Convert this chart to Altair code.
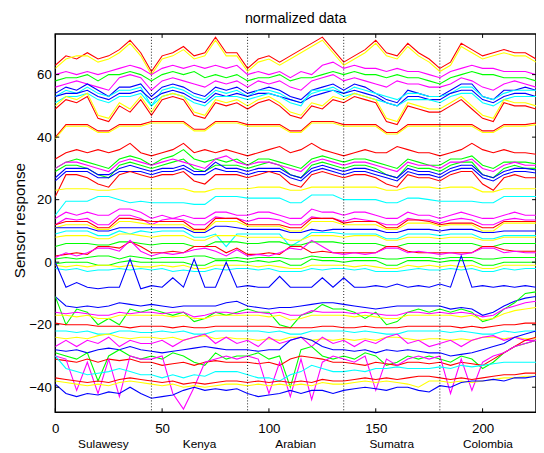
import altair as alt
import pandas as pd

# sample positions (every 5th sample)
X = list(range(0, 226, 5))
X_TICKS = [0, 50, 100, 150, 200]
Y_TICKS = [-40, -20, 0, 20, 40, 60]
GROUP_BOUNDS = [45, 90, 135, 180]
GROUP_NAMES = ["Sulawesy", "Kenya", "Arabian", "Sumatra", "Colombia"]
GROUP_CENTERS = [22.5, 67.5, 112.5, 157.5, 202.5]

RED, YEL, GRN, CYN, BLU, MAG = "#FF0000", "#FFFF00", "#00FF00", "#00FFFF", "#0000FF", "#FF00FF"

top_red = [63,66,65,67,65,66,68,71,67, 61,66,67,69,66,67,72,67,67, 62,65,66,64,66,68,70,72,68, 64,66,68,71,67,66,70,67,65, 62,64,70,68,66,67,68,67,67, 65]
top_yellow = [62,65,66,66,64,65,67,70,66, 60,65,66,68,65,66,71,66,66, 61,64,65,63,65,67,69,71,67, 63,65,67,70,66,65,69,66,64, 61,63,69,67,65,66,67,66,66, 64]
mag_hi = [60,61,60,61,60,61,62,63,62, 60,62,63,62,63,62,63,62,63, 60,61,60,61,59,61,60,63,64, 62,63,62,62,61,62,61,61,60, 59,61,62,63,62,62,61,61,61, 60]
green_hi = [58,59,59,60,58,60,60,61,60, 58,60,61,60,61,59,60,59,60, 58,59,59,60,58,59,59,60,61, 60,61,60,60,59,60,59,59,58, 57,59,60,61,60,60,59,59,59, 58]
mag_mid = [56,57,58,57,56,55,59,60,59, 55,58,59,58,57,56,58,57,58, 56,58,57,58,56,55,58,59,60, 58,59,58,57,56,58,57,57,56, 56,57,59,58,56,55,57,58,57, 56]
blue_hi = [54,56,55,57,55,53,56,56,57, 53,56,57,56,54,53,56,55,56, 54,55,56,55,53,52,55,56,57, 55,57,56,54,52,51,55,54,53, 53,55,57,57,53,52,55,55,56, 55]
cyan_hi = [53,55,54,56,54,53,55,55,56, 50,55,56,55,53,52,55,54,55, 53,55,55,54,52,51,54,55,56, 54,56,55,54,53,52,54,54,53, 53,54,56,56,53,52,54,55,55, 55]
blue_mid = [53,54,54,55,53,52,54,54,55, 52,54,55,54,52,51,54,53,54, 53,54,54,53,52,51,53,54,55, 54,55,54,53,51,50,53,53,52, 52,54,55,55,52,51,53,54,54, 53]
cyan_mid = [51,53,53,54,52,51,53,53,54, 50,53,54,53,51,50,53,53,53, 52,53,54,53,51,50,55,55,55, 53,54,53,52,51,50,52,52,52, 51,53,54,54,51,50,52,53,53, 53]
yellow_lo = [50,53,52,54,47,46,51,49,53, 48,53,54,53,48,47,52,51,52, 50,52,53,51,48,47,51,50,53, 52,54,53,52,46,45,51,50,49, 49,51,53,50,47,46,52,51,51, 50]
red_lo = [49,52,51,53,46,45,50,48,52, 47,52,53,52,47,46,51,50,51, 49,51,52,50,47,46,50,49,52, 51,53,52,51,45,44,50,49,48, 48,50,52,49,46,45,51,50,50, 49]
red_44 = [40,44,44,44,42,42,44,44,44, 45,45,45,45,42.5,42.5,45,45,45, 44,44,44,44,42,42,45,45,45, 44,44,44,44,41.5,41.5,44,44,44, 44,44,44,44,42,42,44,44,44, 44.5]
yellow_44 = [39.5,43.5,43.5,43.5,41.5,41.5,43.5,43.5,43.5, 44.5,44.5,44.5,44.5,42,42,44.5,44.5,44.5, 43.5,43.5,43.5,43.5,41.5,41.5,44.5,44.5,44.5, 43.5,43.5,43.5,43.5,41,41,43.5,43.5,43.5, 43.5,43.5,43.5,43.5,41.5,41.5,43.5,43.5,43.5, 44]
red_36 = [33,35,36,35,36,35,36,38,35, 34,35,36,38,35,36,35,36,35, 34,35,36,37,35,36,38,36,35, 34,35,36,35,35,37,36,35,35, 34,35,36,38,36,35,36,35,35, 34.5]
green_33 = [30,32,33,32,31,30,33,34,33, 31,33,34,36,33,32,33,32,33, 31,33,33,32,31,30,33,34,33, 32,33,33,32,31,30,33,32,31, 31,33,33,34,31,30,32,32,32, 31.5]
green_31 = [29,31,31,30,28,27,31,32,31, 30,31,32,33,30,29,31,31,31, 30,31,32,31,28,27,31,32,31, 30,31,31,30,28,27,31,30,30, 29,31,32,32,28,27,30,31,30, 30]
mag_32 = [30,32,32,31,30,29,32,33,32, 31,32,33,32,31,30,33,34,32, 31,32,32,31,30,29,32,33,32, 31,32,32,31,30,29,32,31,31, 30,32,32,33,30,29,31,32,31, 31]
blue_30 = [27,30,30,30,28,28,30,31,30, 29,30,30,31,29,29,32,30,30, 29,30,30,30,28,27,30,31,30, 29,30,30,29,28,27,30,29,29, 28,30,31,31,28,27,29,30,30, 29.5]
blue_29 = [26,29,29,29,27,27,29,29,29, 28,29,29,30,28,28,30,29,29, 28,29,29,29,27,26,29,30,29, 28,29,29,28,27,26,29,28,28, 27,29,30,30,27,26,28,29,29, 28.5]
red_28 = [21,28,28,27,25,24,28,29,28, 27,28,28,29,26,25,28,28,28, 27,28,29,28,25,24,28,29,28, 27,28,28,27,25,24,28,27,27, 26,28,29,29,25,23,27,28,27, 27]
yellow_24 = [23,23.5,23.5,23.5,23,23,23.5,23.5,23.5, 23.5,23.5,23.5,23.5,22.5,22.5,23.5,23.5,23.5, 23.5,24,24,24,23,23,24,24,24, 24,24,24,24,23,23,24,24,24, 23.5,24,24,24,22.5,22.5,23.5,23.5,23.5, 23.5]
cyan_20 = [15,19.5,19.5,19.5,21,21,20,19,19.5, 19,19,19,19,18.5,18.5,21,21,21, 20.5,20.5,20.5,20.5,19,19,21.5,21.5,21.5, 20,20,20,20,19,19,20.5,20.5,20, 19.5,19.5,19.5,19.5,19,19,21,21,21, 21]
mag_16 = [14,16,15,16,15,15,17,17,16, 14,15,14,15,14,14,16,16,15, 15,16,16,15,14,14,17,16,16, 15,16,16,15,14,14,16,15,15, 14,15,16,15,14,14,15,16,15, 15]
mag_14 = [12,14,13.5,14,12,12,15,15,14, 12,13.5,14,13.5,12,12,14.5,14,14, 13,14,14,13.5,12,12,14.5,14,14, 13,14,13.5,13,12,12,14,13.5,13.5, 12.5,13.5,14,13.5,12,12,13.5,14,13.5, 13.5]
red_13 = [12,13,13,13,11,11,14,14,13.5, 13,13,13,13,10.5,10.5,14,14,14, 12,12,12,12,11,11,14,14,14, 12.5,13,13,13,11,11,13.5,13.5,13, 12,12.5,12.5,12.5,11,11,13,13,13, 13]
yellow_12 = [11,12,12,12,10.5,10.5,13,13,12.5, 12,12,12,12,10,10,13,13,13, 11.5,11.5,11.5,11.5,10,10,13,13,13, 12,12,12,12,10.5,10.5,12.5,12.5,12.5, 11.5,12,12,12,10,10,12.5,12.5,12.5, 12.5]
blue_11 = [11,11,11,11,10,10,11,11,11, 11,11,11,11,9.5,9.5,11.5,11.5,11, 10.5,10.5,10.5,10.5,9.5,9.5,10.5,10,10.5, 10.5,10.5,10.5,10.5,9.5,9.5,10.5,10.5,10.5, 10,10.5,10.5,10.5,9.5,9.5,10,10,10, 10]
cyan_9 = [9,10,10,10,8.5,8.5,10,9,10, 9.5,10,10,10,8,8,9,5,9, 9,9,9,9,5,7,9.5,9.5,9.5, 9,9,9,9,7.5,7.5,9,9,9, 8.5,9,9,9,7.5,7.5,8.5,8.5,8.5, 8.5]
yellow_8 = [8,8.5,8.5,8.5,7.5,7.5,9,9,8.5, 8,8.5,8.5,8.5,7,7,8.5,8.5,8.5, 8,8,8,8,7,7,8.5,8.5,8.5, 8,8.5,8.5,8.5,7,7,8,8,8, 7.5,8,8,8,7,7,8,8,8, 8]
green_6 = [5,6,6,6,5.5,5.5,6.5,6.5,6, 5.5,6,6,6,5,5,6.5,6.5,6.5, 6,6,6.5,6.5,5.5,5.5,6.5,6.5,6.5, 6,6,6,6,5,5,6,6,6, 6,6,6,6,5,5,6,6,6, 6]
red_3 = [2,2.5,3,2.5,5,5,4.5,6.5,5, 3,3,3.5,3,5,5,5,3,4.5, 2.5,2.5,3,2.5,5,5,3,3.5,3, 3,3,3,3,5,5,3.5,3,3, 3,3,3,3,5,5,4,3.5,3.5, 3.5]
mag_3 = [1.5,3,2,3,4.5,4.5,3.5,7,3.5, 2,3,2.5,3,4,4.5,3.5,2,4, 2,2.5,2,3,4.5,4,7,5,3, 2.5,3,2.5,3,4.5,4.5,3,3.5,3, 2.5,3,2.5,3,4.5,4.5,3,3.5,3, 3]
green_1 = [1,1.5,1,1.5,2,2,1,2,1.5, 1,1.5,1.5,1.5,2,2,1,1,1.5, 1,1.5,1.5,1.5,1,1,2,1.5,1.5, 1.5,1.5,1.5,1.5,1,1,1.5,1.5,1.5, 1,1.5,1.5,1.5,1,1,1.5,1.5,1.5, 1.5]
green_0 = [-0.5,0,0,0,-1,-1,0,0.5,0, 0,0,0,0,-1,-1,0.5,0.5,0.5, 0,0.5,0,0.5,-1,-1,1,0.5,0.5, 0,0.5,0.5,0.5,-1,-1,0.5,0.5,0.5, 0,0.5,0.5,0.5,-1,-1,0,0,0, 0]
yellow_m1 = [-1,-1.5,-1,-1.5,-1,-1,-1.5,-1,-1.5, -1.5,-1,-1.5,-1,-2,-2,-1,-1,-1, -1,-1.5,-1,-1.5,-2,-2,-1,-1,-1, -1,-1.5,-1,-1.5,-2,-2,-1,-1.5,-1, -1.5,-1,-1.5,-1,-2,-2,-1,-1,-1, -1]
cyan_m2 = [-2,-2.5,-2,-3,-2.5,-2.5,-2,-2.5,-2, -2.5,-2,-3,-2.5,-3,-3,-2,-2.5,-2, -2,-2.5,-2,-3,-3,-3,-2,-2.5,-2, -2,-2.5,-2,-3,-3,-3,-2.5,-2,-2.5, -2.5,-2,-2.5,-2,-3,-3,-2,-2.5,-2, -2]
blue_m8 = [0,-8,-6.5,-8,-8.5,-8,-8,1,-8.5, -7.5,-8,-5,-8,1,-8,-8,0,-8, -7.5,-8,-8,-4.5,-8,-8,-8,-5,-8, -5,-8,-8,-7.5,-8,-7,-8,-7.5,-8, -7,-8,2,-8,-7.5,-8,-7.5,-8,-7.5, -8]
blue_m14 = [-11,-14,-14.5,-14,-14.5,-14,-13,-13.5,-14, -13.5,-14,-14.5,-14,-14,-14,-14,-13,-12.5, -14,-14.5,-15,-14.5,-14.5,-14,-13.5,-13,-13, -13.5,-14,-14.5,-15,-14.5,-14,-14,-14,-14, -14,-15,-14.5,-15,-17,-16,-14,-12.5,-11.5, -11]
green_m15 = [-11,-20,-15,-16,-20,-18,-20,-15,-16, -15,-16,-17,-16,-19,-18,-16,-17,-16, -15,-16,-16,-20,-21,-17,-16,-13.5,-15, -15,-16,-18,-16,-20,-19,-16,-15,-16, -15,-16,-15,-16,-19,-18,-15,-13,-10, -9.5]
mag_m16 = [-16,-16.5,-16,-16.5,-17,-17,-16,-16.5,-16, -16,-16.5,-16,-16,-17.5,-17,-16,-16,-16.5, -16,-16,-16.5,-16,-17,-17,-15.5,-16,-16, -16,-16.5,-16,-16.5,-17,-17,-16,-16,-16.5, -16,-16.5,-16,-16.5,-17.5,-17,-15,-14,-13, -12.5]
yellow_m17 = [-17,-17,-17.5,-17,-18,-18,-17,-17,-17, -17,-17,-17.5,-17,-18,-18,-17,-17,-17, -17,-17,-17.5,-17,-18.5,-18,-17,-17,-17, -17,-17.5,-17,-17.5,-18,-18,-17,-17,-17, -17,-17,-17.5,-17,-18.5,-18,-16.5,-15.5,-15, -14.5]
red_m20 = [-19.5,-20,-20,-20,-20.5,-20.5,-20.5,-21,-20.5, -20.5,-20.5,-21,-20.5,-21,-21,-20.5,-20.5,-20.5, -20.5,-20.5,-20.5,-21,-21,-21,-21,-20.5,-20.5, -21,-21,-20.5,-21,-21,-21,-20.5,-20.5,-20.5, -20.5,-20.5,-21,-20.5,-21,-20.5,-20,-20,-19.5, -19.5]
cyan_m22 = [-22,-22,-22.5,-22,-23,-23,-22,-22,-22.5, -22.5,-22,-22.5,-22,-23,-23,-22,-22,-22, -22,-22,-22.5,-22,-23,-23,-22,-22,-22, -22,-22.5,-22,-22.5,-23,-23,-22,-22,-22, -22,-22.5,-22,-22.5,-23,-23,-22,-22.5,-22, -22]
yellow_m24 = [-24,-24.5,-24,-24.5,-23.5,-23,-24,-24.5,-24, -24,-24.5,-24,-25,-24,-23.5,-24.5,-24,-24.5, -24.5,-25,-24.5,-25,-24,-24,-25,-24.5,-25, -24.5,-25,-24.5,-25,-24,-24,-24.5,-25,-24.5, -24.5,-25,-24.5,-25,-24,-24,-24.5,-24,-24.5, -24.5]
mag_m26 = [-27,-25,-27,-25,-26,-24,-27,-25,-26, -26,-25,-27,-25,-24,-23,-26,-24,-26, -25,-27,-24,-26,-25,-24,-27,-24,-26, -25,-27,-25,-26,-24,-23,-26,-25,-27, -26,-25,-27,-25,-24,-23.5,-25,-24,-25, -25]
blue_m28 = [-28,-28.5,-28,-29,-28,-27.5,-28,-27,-28, -28.5,-29,-28.5,-28,-27.5,-27,-27.5,-28,-28, -28,-28.5,-28,-28,-25,-24,-25,-27,-28, -28,-28.5,-28,-29,-28,-28.5,-28,-28.5,-29, -29,-30,-29.5,-29,-28,-27,-26,-24,-23, -22]
green_m30 = [-29,-30,-31,-29,-38,-30,-28,-30,-31, -30,-31,-29,-30,-32,-33,-29,-31,-30, -30,-29,-31,-30,-40,-28,-27,-30,-31, -30,-31,-29,-30,-33,-32,-30,-31,-30, -31,-32,-30,-31,-34,-32,-29,-27,-26, -25]
red_m32 = [-31,-31.5,-32,-31,-32,-31,-31.5,-31,-32, -32,-33,-32.5,-32,-33,-32,-31.5,-32,-32, -32,-32.5,-32,-33,-31,-30,-30.5,-31,-32, -32,-32.5,-33,-32,-32.5,-33,-32,-32,-32.5, -32,-33,-32,-32.5,-33,-31,-29,-27,-25, -24]
mag_spiky = [-30,-31,-41,-32,-42,-31,-43,-30,-31, -31,-30,-42,-47,-40,-32,-31,-30,-31, -30,-31,-42,-32,-43,-31,-44,-32,-30, -31,-32,-30,-41,-31,-33,-31,-30,-31, -30,-42,-31,-41,-32,-30,-29,-27,-26, -25]
cyan_m35 = [-30,-34,-35,-36,-35.5,-35,-34,-35,-36, -36,-37,-36,-37,-36,-36.5,-35,-35,-35, -36,-37,-37,-38,-36,-35,-33,-34,-35, -35,-34.5,-35,-34,-34,-33.5,-34,-34,-34, -33.5,-34,-33,-33.5,-33,-32.5,-32,-32,-32, -32]
red_m38 = [-37,-37.5,-38,-38.5,-38,-38.5,-37.5,-37,-37.5, -38,-38.5,-38,-39,-38.5,-39,-38.5,-38,-38, -38.5,-38,-38.5,-38,-38.5,-38,-38.5,-37.5,-38, -38,-37.5,-37,-37.5,-37,-37.5,-37,-36.5,-36.5, -37,-37.5,-37,-37.5,-37,-36.5,-36,-36,-35.5, -35.5]
yellow_m39 = [-38,-38.5,-39,-39.5,-39,-39.5,-38.5,-38,-38.5, -39,-39.5,-39,-40,-39.5,-40,-39.5,-39,-39, -39.5,-39,-39.5,-39,-39.5,-39,-39.5,-38.5,-39, -39,-38.5,-38,-38.5,-38,-38.5,-39,-40,-38, -38,-38.5,-38,-38.5,-38,-37.5,-37,-37,-36.5, -36.5]
blue_m42 = [-39,-42,-43,-42,-42.5,-41.5,-42,-40,-42, -43.5,-43,-42.5,-41,-40,-41,-40.5,-41,-40.5, -42,-43,-42.5,-42,-41,-42,-41,-41,-42, -41,-40.5,-40,-40.5,-41,-40,-40,-41,-41.5, -39.5,-40,-38.5,-38,-38,-37.5,-38,-37,-37, -36.5]

SERIES = [
    (RED, top_red), (YEL, top_yellow), (MAG, mag_hi), (GRN, green_hi), (MAG, mag_mid),
    (BLU, blue_hi), (CYN, cyan_hi), (BLU, blue_mid), (CYN, cyan_mid), (RED, red_lo), (YEL, yellow_lo),
    (RED, red_44), (YEL, yellow_44), (RED, red_36), (GRN, green_33), (GRN, green_31), (MAG, mag_32),
    (BLU, blue_30), (BLU, blue_29), (RED, red_28), (YEL, yellow_24), (CYN, cyan_20), (MAG, mag_16),
    (MAG, mag_14), (RED, red_13), (YEL, yellow_12), (BLU, blue_11), (CYN, cyan_9), (YEL, yellow_8),
    (GRN, green_6), (RED, red_3), (MAG, mag_3), (GRN, green_1), (GRN, green_0), (YEL, yellow_m1),
    (CYN, cyan_m2), (BLU, blue_m8), (BLU, blue_m14), (GRN, green_m15), (MAG, mag_m16), (YEL, yellow_m17),
    (RED, red_m20), (CYN, cyan_m22), (YEL, yellow_m24), (MAG, mag_m26), (BLU, blue_m28), (GRN, green_m30),
    (RED, red_m32), (MAG, mag_spiky), (CYN, cyan_m35), (RED, red_m38), (YEL, yellow_m39), (BLU, blue_m42),
]

rows = []
for i, (col, vals) in enumerate(SERIES):
    assert len(vals) == len(X), (i, len(vals))
    for xv, v in zip(X, vals):
        rows.append({"id": f"s{i:02d}", "color": col, "x": xv, "v": v})
df = pd.DataFrame(rows)

W, H = 488, 384
FONT = "Liberation Sans"
xs = alt.Scale(domain=[0, 225], nice=False, zero=False)
ys = alt.Scale(domain=[-48, 73], nice=False, zero=False)

lines = alt.Chart(df).mark_line(strokeWidth=1.1, clip=True).encode(
    x=alt.X("x:Q", scale=xs, title=None, axis=alt.Axis(
        values=X_TICKS, title=None, ticks=False, domain=False, grid=False,
        labelFontSize=13.5, labelPadding=10, labelColor="black", labelFlush=False,
        format="d", labelFont=FONT)),
    y=alt.Y("v:Q", scale=ys, title="Sensor response", axis=alt.Axis(
        values=Y_TICKS, title="Sensor response", ticks=False, domain=False, grid=False,
        labelFontSize=13.5, labelPadding=4, labelColor="black", labelFlush=False,
        format="d", labelFont=FONT, titleFont=FONT, titleFontSize=15.5,
        titleFontWeight="normal", titleColor="black", titleX=-36, titleY=H / 2 - 3,
        titleAngle=270, titleAlign="center", titleBaseline="middle")),
    color=alt.Color("color:N", scale=None),
    detail="id:N",
)

# helper layers use the same field names so the shared axes merge cleanly
bounds_df = pd.DataFrame({"x": GROUP_BOUNDS})
dotted = alt.Chart(bounds_df).mark_rule(color="black", strokeDash=[1, 2], strokeWidth=0.9).encode(
    x=alt.X("x:Q", scale=xs, title=None))

xt_df = pd.DataFrame({"x": X_TICKS})
yt_df = pd.DataFrame({"v": Y_TICKS})
tick_bottom = alt.Chart(xt_df).mark_rule(color="black", strokeWidth=1).encode(
    x=alt.X("x:Q", scale=xs, title=None), y=alt.value(H), y2=alt.value(H - 4))
tick_top = alt.Chart(xt_df).mark_rule(color="black", strokeWidth=1).encode(
    x=alt.X("x:Q", scale=xs, title=None), y=alt.value(0), y2=alt.value(4))
tick_left = alt.Chart(yt_df).mark_rule(color="black", strokeWidth=1).encode(
    y=alt.Y("v:Q", scale=ys, title="Sensor response"), x=alt.value(0), x2=alt.value(4))
tick_right = alt.Chart(yt_df).mark_rule(color="black", strokeWidth=1).encode(
    y=alt.Y("v:Q", scale=ys, title="Sensor response"), x=alt.value(W), x2=alt.value(W - 4))

groups_df = pd.DataFrame({"x": GROUP_CENTERS, "name": GROUP_NAMES})
group_labels = alt.Chart(groups_df).mark_text(
    fontSize=12, font=FONT, color="black", align="center", baseline="middle").encode(
    x=alt.X("x:Q", scale=xs, title=None), y=alt.value(H + 32), text="name:N")

title_df = pd.DataFrame({"t": ["normalized data"]})
title = alt.Chart(title_df).mark_text(
    fontSize=14.5, font=FONT, color="black", align="center", baseline="middle").encode(
    x=alt.value(W / 2), y=alt.value(-15), text="t:N")

chart = alt.layer(
    lines, dotted, tick_bottom, tick_top, tick_left, tick_right, group_labels, title
).properties(
    width=W, height=H,
    padding={"left": 48, "top": 23, "right": 0, "bottom": 37},
    autosize=alt.AutoSizeParams(type="none"),
).configure(
    font=FONT,
    view=alt.ViewConfig(stroke="black", strokeWidth=1.5),
)

chart.save("out.html", embed_options={"renderer": "svg", "actions": False})
